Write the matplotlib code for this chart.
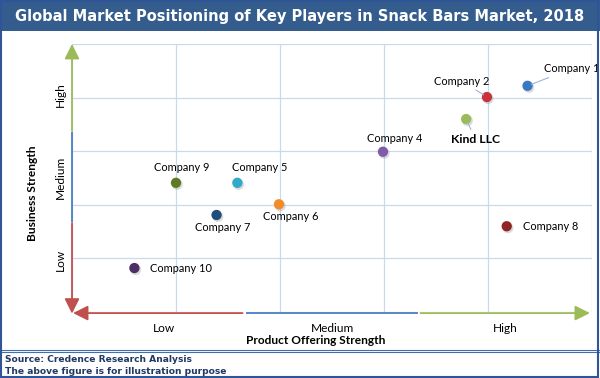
import matplotlib
matplotlib.use("Agg")
import matplotlib.pyplot as plt
from matplotlib.patches import Rectangle, FancyArrowPatch
from matplotlib.lines import Line2D

# ---- data ----
companies = ["Company 1", "Company 2", "Kind LLC", "Company 4", "Company 9",
             "Company 5", "Company 6", "Company 7", "Company 8", "Company 10"]
product_strength = [4.38, 3.99, 3.79, 2.99, 1.00, 1.59, 1.99, 1.39, 4.18, 0.60]
business_strength = [4.22, 4.01, 3.60, 2.99, 2.41, 2.41, 2.01, 1.81, 1.60, 0.82]
colors = ["#3A78C3", "#C8323C", "#9BBB59", "#7E5CA8", "#5F7A25",
          "#31A9C9", "#F28C28", "#1F4E79", "#8E2424", "#4B2F66"]
x_tick_labels = ["Low", "Medium", "High"]
y_tick_labels = ["Low", "Medium", "High"]
title = "Global Market Positioning of Key Players in Snack Bars Market, 2018"
x_title = "Product Offering Strength"
y_title = "Business Strength"
footer = ["Source: Credence Research Analysis", "The above figure is for illustration purpose"]

# label placement (offset pixels, ha, bold, leader line)
label_style = {
    "Company 1": (16, 17, "left", False, True),
    "Company 2": (-25, 16, "center", False, True),
    "Kind LLC": (9, -20, "center", True, True),
    "Company 4": (12, 13, "center", False, False),
    "Company 9": (6, 15, "center", False, False),
    "Company 5": (22, 15, "center", False, False),
    "Company 6": (12, -12, "center", False, False),
    "Company 7": (6, -13, "center", False, False),
    "Company 8": (16, 0, "left", False, False),
    "Company 10": (16, 0, "left", False, False),
}

W, H = 600, 378
fig = plt.figure(figsize=(W / 100, H / 100), dpi=100)
fig.patch.set_facecolor("white")

def fx(px):
    return px / W

def fy(py):
    return 1 - py / H

# frame, title bar, separator
fig.add_artist(Rectangle((0, fy(31)), 1, 31 / H, transform=fig.transFigure,
                         facecolor="#345D8E", edgecolor="none", zorder=0))
fig.add_artist(Rectangle((fx(1), fy(377)), fx(597), (376) / H, transform=fig.transFigure,
                         facecolor="none", edgecolor="#2F5597", lw=1.5, zorder=5))
for yy in (349.5, 351.5):
    fig.add_artist(Line2D([0, 1], [fy(yy), fy(yy)], transform=fig.transFigure,
                          color="#3E6FB0", lw=0.8))
fig.text(0.5, fy(16), title, ha="center", va="center", color="white",
         fontsize=10.5, fontweight="bold", family="DejaVu Sans")
fig.text(fx(5), fy(359), footer[0], ha="left", va="center", color="#1F3864",
         fontsize=6.6, fontweight="bold", family="DejaVu Sans")
fig.text(fx(5), fy(371), footer[1], ha="left", va="center", color="#1F3864",
         fontsize=6.6, fontweight="bold", family="DejaVu Sans")

# axes
x0, x1, y0, y1 = 72, 592, 44, 312
ax = fig.add_axes([fx(x0), fy(y1), fx(x1 - x0), (y1 - y0) / H])
ax.set_xlim(0, 5)
ax.set_ylim(0, 5)
for s in ax.spines.values():
    s.set_visible(False)
ax.set_xticks(range(6))
ax.set_yticks(range(6))
ax.tick_params(length=0, labelbottom=False, labelleft=False)
ax.grid(True, color="#C9DAEE", lw=0.9)
ax.set_axisbelow(True)

font = "Lato"

# axis arrows
def seg(p0, p1, color, head=None):
    if head is None:
        ax.add_line(Line2D([p0[0], p1[0]], [p0[1], p1[1]], color=color, lw=1.3,
                           clip_on=False, solid_capstyle="butt"))
    else:
        a = FancyArrowPatch(p0, p1, arrowstyle="-|>,head_length=0.9,head_width=0.45",
                            mutation_scale=10, color=color, lw=1.3, clip_on=False,
                            shrinkA=0, shrinkB=0)
        ax.add_patch(a)

ya = -0.02
seg((0, 3.38), (0, 5.0), "#9BBB59", head=True)
seg((0, 3.35), (0, 1.68), "#4A7EC1")
seg((0, 1.66), (0, -0.03), "#C0504D", head=True)
seg((1.64, ya), (0.01, ya), "#C0504D", head=True)
seg((1.67, ya), (3.33, ya), "#4A7EC1")
seg((3.35, ya), (4.98, ya), "#9BBB59", head=True)

# category labels
for xv, t in zip([0.88, 2.5, 4.17], x_tick_labels):
    ax.text(xv, -0.31, t, ha="center", va="center", fontsize=8.6, family=font,
            transform=ax.transData, clip_on=False)
for yv, t in zip([0.98, 2.52, 4.05], y_tick_labels):
    ax.text(-0.115, yv, t, ha="center", va="center", rotation=90, fontsize=8.6,
            family=font, clip_on=False)
fig.text(fx(316), fy(340), x_title, ha="center", va="center", fontsize=8.6,
         fontweight="bold", family=font)
fig.text(fx(32), fy(193), y_title, ha="center", va="center", rotation=90,
         fontsize=8.6, fontweight="bold", family=font)

# points
for name, xv, yv, c in zip(companies, product_strength, business_strength, colors):
    ax.scatter([xv + 0.012], [yv - 0.03], s=62, color="#999999", alpha=0.35,
               edgecolors="none", zorder=3, clip_on=False)
    ax.scatter([xv], [yv], s=55, color=c, edgecolors="none", zorder=4, clip_on=False)
    dx, dy, ha, bold, leader = label_style[name]
    kw = dict(xy=(xv, yv), xytext=(dx, dy), textcoords="offset pixels", ha=ha,
              va="center", fontsize=7.9 if not bold else 8.8, family=font,
              fontweight="bold" if bold else "normal", zorder=5, annotation_clip=False)
    if leader:
        kw["arrowprops"] = dict(arrowstyle="-", color="#9DB5D8", lw=0.8,
                                shrinkA=1, shrinkB=3)
    ax.annotate(name, **kw)

fig.savefig("out.png", dpi=100)
